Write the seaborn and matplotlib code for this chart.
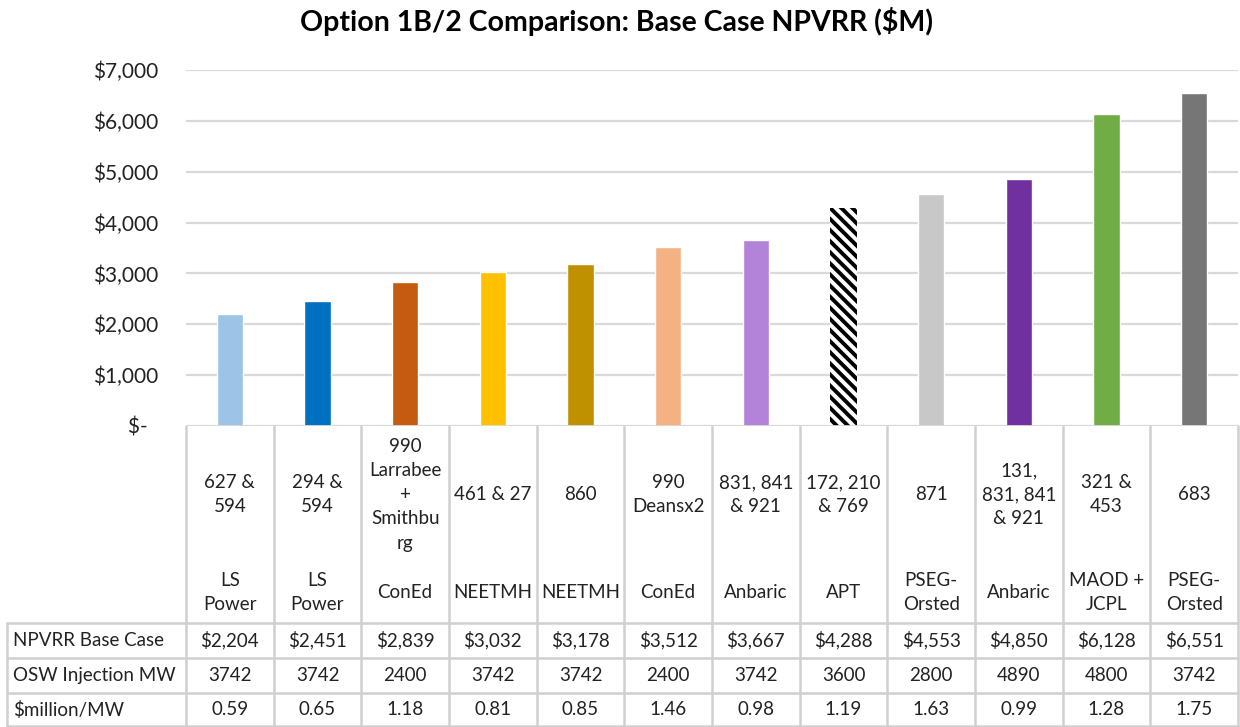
# Option 1B/2 comparison: bar chart of base case NPVRR with a data table underneath

import matplotlib
matplotlib.use("Agg")
import matplotlib.pyplot as plt
import pandas as pd
import seaborn as sns

# Step 1: data
project_ids = ["627 &\n594", "294 &\n594", "990\nLarrabee\n+\nSmithbu\nrg", "461 & 27", "860",
               "990\nDeansx2", "831, 841\n& 921", "172, 210\n& 769", "871",
               "131,\n831, 841\n& 921", "321 &\n453", "683"]
developers = ["LS\nPower", "LS\nPower", "ConEd", "NEETMH", "NEETMH", "ConEd", "Anbaric",
              "APT", "PSEG-\nOrsted", "Anbaric", "MAOD +\nJCPL", "PSEG-\nOrsted"]
npvrr = [2204, 2451, 2839, 3032, 3178, 3512, 3667, 4288, 4553, 4850, 6128, 6551]
osw_mw = [3742, 3742, 2400, 3742, 3742, 2400, 3742, 3600, 2800, 4890, 4800, 3742]
cost_per_mw = [0.59, 0.65, 1.18, 0.81, 0.85, 1.46, 0.98, 1.19, 1.63, 0.99, 1.28, 1.75]
row_labels = ["NPVRR Base Case", "OSW Injection MW", "$million/MW"]
y_ticks = [0, 1000, 2000, 3000, 4000, 5000, 6000, 7000]
y_tick_labels = ["$-  ", "$1,000", "$2,000", "$3,000", "$4,000", "$5,000", "$6,000", "$7,000"]

bar_colors = ["#9DC3E6", "#0070C0", "#C55A11", "#FFC000", "#BF9000", "#F4B183",
              "#B383DA", "#FFFFFF", "#C8C8C8", "#7030A0", "#70AD47", "#767676"]
hatched_bar = 7

# Step 2: style
sns.set_style("white")
plt.rcParams["font.family"] = ["Lato", "DejaVu Sans"]
plt.rcParams["hatch.linewidth"] = 2.8
grid_color = "#D9D9D9"
line_color = "#D0D0D0"
text_color = "#222222"

W, H = 1240, 727
fig = plt.figure(figsize=(W / 100, H / 100), dpi=100)

# plot area in pixels
left_px, right_px, top_px, base_px = 186, 1238, 70, 426
ax = fig.add_axes([left_px / W, 1 - base_px / H, (right_px - left_px) / W, (base_px - top_px) / H])

df = pd.DataFrame({"project": project_ids, "npvrr": npvrr})
sns.barplot(data=df, x="project", y="npvrr", hue="project", palette=bar_colors,
            saturation=1, width=0.3, legend=False, ax=ax, zorder=3)

bar = ax.patches[hatched_bar]
bar.set_facecolor("white")
bar.set_edgecolor("black")
bar.set_hatch("\\\\\\")
bar.set_linewidth(0)

ax.set_ylim(0, 7000)
ax.set_yticks(y_ticks)
ax.set_yticklabels(y_tick_labels, fontsize=15, color=text_color)
ax.tick_params(axis="y", length=0, pad=20)
ax.set_xticks([])
ax.set_xlabel("")
ax.set_ylabel("")
ax.grid(axis="y", color=grid_color, linewidth=1.6, zorder=0)
sns.despine(ax=ax, left=True, top=True, right=True, bottom=True)
ax.axhline(0, color=grid_color, linewidth=2, zorder=4)

fig.text(0.497, 1 - 22 / H, "Option 1B/2 Comparison: Base Case NPVRR ($M)",
         ha="center", va="center", fontsize=20.5, fontweight="bold", color="black")

# Step 3: data table below the bars
table_h = H - base_px
tax = fig.add_axes([left_px / W, 0, (right_px - left_px) / W, table_h / H])
x0, x1 = ax.get_xlim()
tax.set_xlim(x0, x1)
tax.set_ylim(table_h, 0)
tax.axis("off")

col_px = (right_px - left_px) / len(npvrr)
label_left = x0 - (left_px - 7) / col_px
row_edges = [0, 197, 232, 267, table_h - 1]

for i in range(len(npvrr) + 1):
    tax.plot([x0 + i, x0 + i], [0, row_edges[-1]], color=line_color, lw=1.8, clip_on=False)
tax.plot([label_left, label_left], [row_edges[1], row_edges[-1]], color=line_color, lw=1.8, clip_on=False)
for y in row_edges[1:]:
    tax.plot([label_left, x1], [y, y], color=line_color, lw=1.8, clip_on=False)

for i in range(len(npvrr)):
    tax.text(i, 69, project_ids[i], ha="center", va="center", fontsize=13.5,
             linespacing=1.5, color=text_color)
    tax.text(i, 167, developers[i], ha="center", va="center", fontsize=13.5,
             linespacing=1.5, color=text_color)
    row_values = [f"${npvrr[i]:,}", f"{osw_mw[i]}", f"{cost_per_mw[i]:.2f}"]
    for r, val in enumerate(row_values):
        yc = (row_edges[r + 1] + row_edges[r + 2]) / 2
        tax.text(i, yc, val, ha="center", va="center", fontsize=13.5, color=text_color)

for r, lab in enumerate(row_labels):
    yc = (row_edges[r + 1] + row_edges[r + 2]) / 2
    tax.text(label_left + 6 / col_px, yc, lab, ha="left", va="center", fontsize=13.5,
             color=text_color, clip_on=False)

fig.savefig("out.png", dpi=100)
